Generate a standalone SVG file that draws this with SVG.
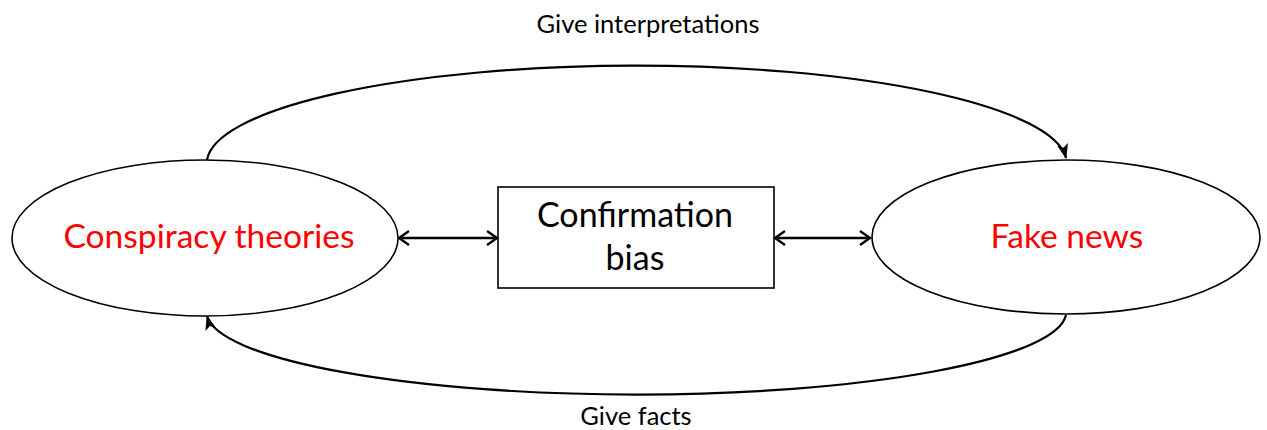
<svg xmlns="http://www.w3.org/2000/svg" width="1267" height="430" viewBox="0 0 1267 430">
<style>
.node{fill:#fff;stroke:#000;stroke-width:1.6}
.red{font-family:Lato,"Liberation Sans",sans-serif;font-size:33.6px;fill:#f00;text-anchor:middle}
.blk{font-family:Lato,"Liberation Sans",sans-serif;font-size:34px;fill:#000;text-anchor:middle}
.lbl{font-family:Lato,"Liberation Sans",sans-serif;font-size:25.5px;fill:#000;text-anchor:middle}
.curve{fill:none;stroke:#000;stroke-width:2.2}
.dbl{fill:none;stroke:#000;stroke-width:2.4}
</style>
<defs>
<marker id="tri" markerUnits="userSpaceOnUse" markerWidth="16" markerHeight="16" viewBox="0 0 16 16" refX="14" refY="8" orient="auto">
<path d="M0,2.5 L15,8 L0,13.5 L3.5,8 Z" fill="#000"/>
</marker>
<marker id="vee" markerUnits="userSpaceOnUse" markerWidth="16" markerHeight="20" viewBox="0 0 16 20" refX="14" refY="10" orient="auto-start-reverse">
<path d="M4,3 L14,10 L4,17" fill="none" stroke="#000" stroke-width="2.4"/>
</marker>
</defs>
<g id="connectors">
<path class="curve" d="M207,160 A430,98 0 0 1 1066,158" marker-end="url(#tri)"/>
<path class="curve" d="M1066,315 A430,83 0 0 1 207,316" marker-end="url(#tri)"/>
<line class="dbl" x1="399" y1="238" x2="497" y2="238" marker-start="url(#vee)" marker-end="url(#vee)"/>
<line class="dbl" x1="775" y1="238" x2="870" y2="238" marker-start="url(#vee)" marker-end="url(#vee)"/>
</g>
<g id="conspiracy">
<ellipse class="node" cx="205" cy="238" rx="193" ry="78"/>
<text class="red" x="209" y="248">Conspiracy theories</text>
</g>
<g id="bias">
<rect class="node" x="498" y="187" width="276" height="101"/>
<text class="blk" x="635" y="227">Confirmation</text>
<text class="blk" x="635" y="270">bias</text>
</g>
<g id="fakenews">
<ellipse class="node" cx="1066" cy="237" rx="194" ry="77"/>
<text class="red" x="1067" y="248">Fake news</text>
</g>
<g id="labels">
<text class="lbl" x="648" y="33">Give interpretations</text>
<text class="lbl" x="636" y="425">Give facts</text>
</g>
</svg>
